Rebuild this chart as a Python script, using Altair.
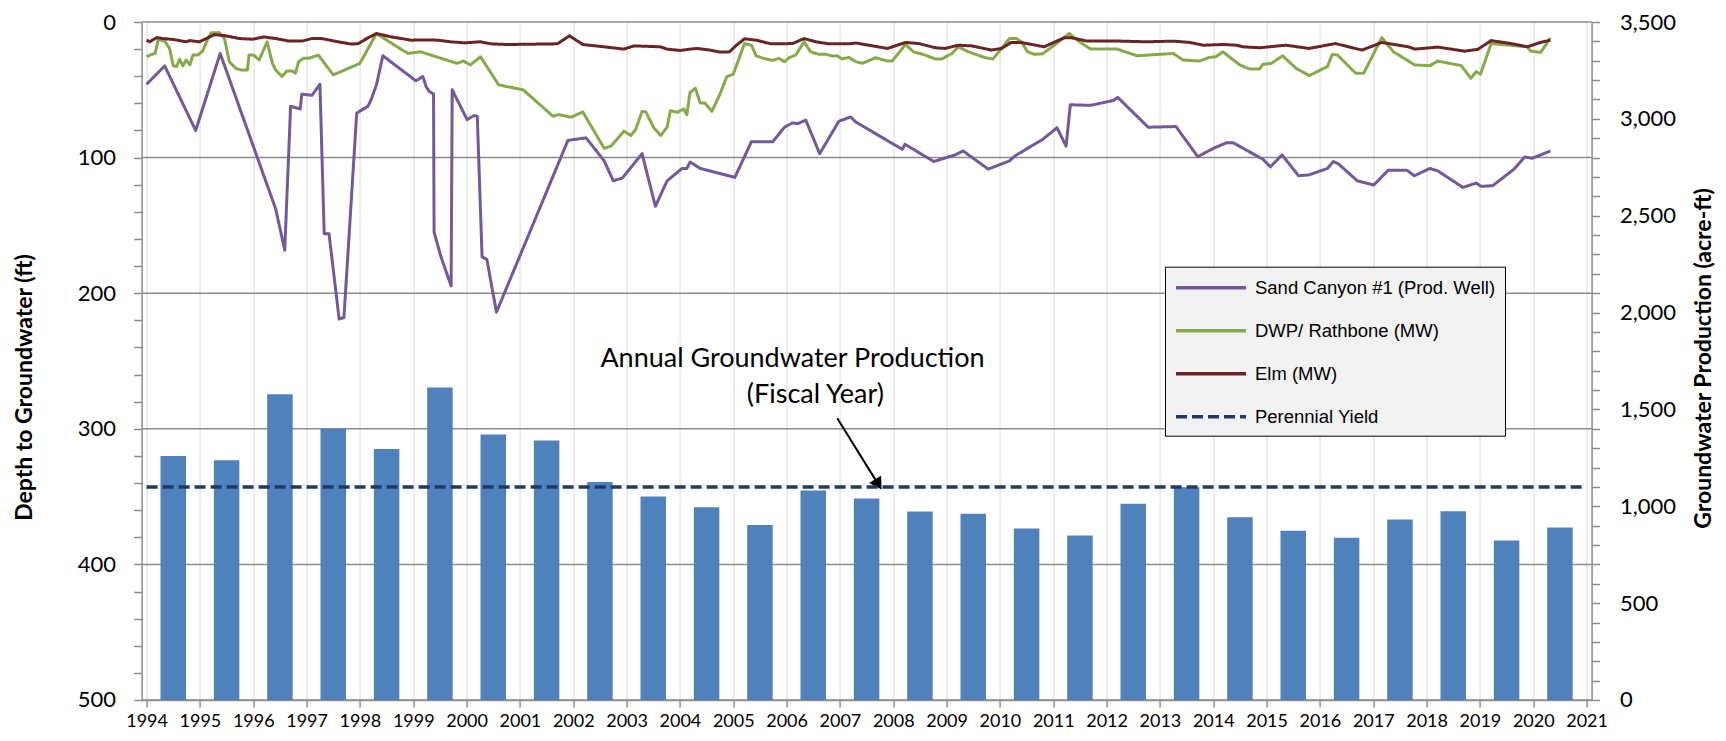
import altair as alt
import pandas as pd

# ---------------- data ----------------
fiscal_years = list(range(1994, 2021))
production_af = [1260, 1238, 1579, 1400, 1296, 1613, 1371, 1340, 1125, 1050, 995, 903,
                 1082, 1040, 973, 961, 885, 849, 1013, 1098, 944, 874, 837, 932, 975, 823, 891]

perennial_x = [1994, 2021]
perennial_af = [1100, 1100]

sand_year = [1994.00, 1994.34, 1994.92, 1995.38, 1996.42, 1996.59, 1996.70, 1996.88, 1996.91, 1997.10,
             1997.25, 1997.33, 1997.42, 1997.61, 1997.70, 1997.94, 1998.15, 1998.21, 1998.31, 1998.43,
             1999.05, 1999.18, 1999.24, 1999.30, 1999.38, 1999.39, 1999.52, 1999.71, 1999.73, 2000.01,
             2000.14, 2000.20, 2000.29, 2000.38, 2000.56, 2001.90, 2002.24, 2002.58, 2002.75, 2002.92,
             2003.29, 2003.54, 2003.76, 2004.04, 2004.13, 2004.19, 2004.38, 2005.03, 2005.34, 2005.74,
             2005.96, 2006.11, 2006.21, 2006.36, 2006.62, 2006.98, 2007.20, 2007.29, 2007.48, 2008.17,
             2008.22, 2008.76, 2009.16, 2009.31, 2009.78, 2010.18, 2010.28, 2010.80, 2011.07, 2011.24,
             2011.32, 2011.70, 2012.13, 2012.21, 2012.78, 2013.30, 2013.71, 2014.00, 2014.25, 2014.37,
             2014.93, 2015.07, 2015.29, 2015.60, 2015.80, 2016.14, 2016.25, 2016.34, 2016.70, 2017.01,
             2017.28, 2017.63, 2017.77, 2018.06, 2018.21, 2018.68, 2018.93, 2019.02, 2019.24, 2019.64,
             2019.84, 2019.98, 2020.32]
sand_ft = [45.9, 32.4, 80.0, 23.2, 137.8, 168.3, 62.2, 64.1, 53.2, 54.1,
           45.9, 156.1, 156.1, 219.0, 218.0, 67.1, 62.2, 57.3, 46.3, 24.9,
           43.4, 40.2, 47.6, 51.2, 53.2, 154.9, 173.2, 194.6, 50.0, 72.0,
           69.0, 69.5, 173.2, 175.1, 214.0, 87.3, 85.4, 102.4, 117.1, 115.1,
           97.1, 135.9, 117.1, 108.0, 108.0, 103.2, 108.0, 114.6, 88.3, 88.3,
           77.6, 74.4, 74.9, 72.4, 97.1, 73.2, 70.0, 73.5, 78.0, 93.9,
           90.2, 102.9, 98.0, 95.1, 108.5, 102.4, 98.8, 86.6, 78.0, 91.5,
           61.0, 61.5, 57.8, 55.6, 77.6, 77.1, 99.3, 93.2, 89.0, 89.0,
           101.2, 106.8, 98.0, 113.4, 112.7, 108.0, 102.9, 104.4, 117.1, 120.2,
           109.3, 109.3, 113.4, 108.0, 109.8, 122.0, 118.8, 121.2, 120.7, 108.5,
           99.5, 100.5, 95.1]

dwp_year = [1994.00, 1994.09, 1994.16, 1994.22, 1994.34, 1994.43, 1994.50, 1994.56, 1994.62, 1994.68,
            1994.74, 1994.81, 1994.87, 1994.96, 1995.05, 1995.15, 1995.21, 1995.36, 1995.46, 1995.55,
            1995.67, 1995.77, 1995.89, 1995.92, 1996.01, 1996.11, 1996.26, 1996.36, 1996.42, 1996.54,
            1996.63, 1996.73, 1996.79, 1996.85, 1996.94, 1997.04, 1997.22, 1997.50, 1998.00, 1998.31,
            1998.65, 1998.90, 1999.14, 1999.82, 1999.94, 2000.07, 2000.26, 2000.60, 2000.75, 2001.06,
            2001.62, 2001.72, 2001.96, 2002.18, 2002.58, 2002.71, 2002.95, 2003.08, 2003.17, 2003.29,
            2003.36, 2003.51, 2003.64, 2003.76, 2003.82, 2003.95, 2004.07, 2004.13, 2004.19, 2004.29,
            2004.38, 2004.47, 2004.60, 2004.75, 2004.88, 2005.00, 2005.21, 2005.34, 2005.43, 2005.56,
            2005.74, 2005.86, 2005.96, 2006.05, 2006.17, 2006.33, 2006.45, 2006.61, 2006.73, 2006.86,
            2006.95, 2007.04, 2007.17, 2007.30, 2007.42, 2007.67, 2007.89, 2007.98, 2008.23, 2008.38,
            2008.60, 2008.79, 2008.91, 2009.10, 2009.22, 2009.41, 2009.72, 2009.87, 2010.18, 2010.31,
            2010.40, 2010.52, 2010.65, 2010.80, 2011.02, 2011.30, 2011.45, 2011.70, 2012.20, 2012.57,
            2013.25, 2013.43, 2013.74, 2013.93, 2014.05, 2014.18, 2014.50, 2014.68, 2014.87, 2014.93,
            2015.09, 2015.30, 2015.55, 2015.80, 2016.14, 2016.23, 2016.33, 2016.67, 2016.82, 2017.16,
            2017.38, 2017.78, 2018.06, 2018.21, 2018.65, 2018.83, 2018.93, 2019.01, 2019.21, 2019.89,
            2019.95, 2020.14, 2020.32]
dwp_ft = [25.6, 23.9, 23.2, 12.9, 14.1, 19.5, 32.2, 32.9, 27.6, 32.4,
          28.0, 31.7, 24.4, 24.4, 21.5, 12.2, 8.0, 7.8, 12.2, 29.3,
          34.1, 35.4, 35.4, 24.4, 24.4, 28.0, 14.6, 30.5, 35.4, 40.2,
          36.1, 36.1, 37.8, 29.3, 26.8, 26.8, 24.4, 39.0, 30.5, 8.5,
          17.1, 23.2, 22.0, 30.5, 28.8, 31.7, 25.6, 46.3, 47.6, 50.0,
          69.5, 68.3, 70.2, 66.3, 93.2, 91.5, 80.5, 83.7, 79.3, 65.9,
          66.3, 78.0, 83.7, 77.6, 65.4, 66.6, 64.1, 68.3, 52.0, 48.8,
          59.8, 59.8, 65.9, 53.2, 40.2, 38.5, 15.9, 17.1, 24.9, 26.8,
          28.3, 26.8, 29.3, 26.3, 24.4, 14.6, 22.0, 23.9, 23.7, 25.1,
          24.9, 27.3, 26.1, 29.3, 30.5, 26.3, 28.8, 28.8, 16.6, 22.0,
          24.4, 27.3, 27.3, 23.2, 18.3, 22.0, 26.3, 27.3, 12.2, 12.2,
          14.6, 22.0, 23.9, 23.4, 17.1, 8.5, 13.4, 20.0, 20.0, 24.9,
          23.2, 28.0, 28.8, 26.1, 25.6, 22.0, 31.7, 34.6, 34.6, 31.2,
          30.5, 24.9, 34.1, 39.5, 32.9, 23.9, 24.4, 37.8, 37.8, 11.5,
          22.0, 31.7, 32.2, 28.8, 32.2, 41.5, 36.6, 38.5, 15.9, 18.3,
          21.5, 22.4, 11.7]

elm_year = [1994.00, 1994.06, 1994.19, 1994.31, 1994.50, 1994.74, 1994.81, 1994.99, 1995.12, 1995.27,
            1995.49, 1995.74, 1995.99, 1996.20, 1996.42, 1996.67, 1996.91, 1997.10, 1997.28, 1997.59,
            1997.84, 1997.97, 1998.15, 1998.31, 1998.59, 1998.96, 1999.21, 1999.45, 1999.70, 1999.95,
            2000.26, 2000.45, 2000.77, 2001.70, 2001.93, 2002.18, 2002.58, 2002.95, 2003.14, 2003.63,
            2003.76, 2004.01, 2004.19, 2004.32, 2004.56, 2004.75, 2004.93, 2005.06, 2005.21, 2005.43,
            2005.71, 2006.11, 2006.33, 2006.55, 2006.79, 2007.17, 2007.30, 2007.61, 2007.89, 2008.23,
            2008.48, 2008.79, 2008.97, 2009.22, 2009.47, 2009.84, 2010.03, 2010.21, 2010.40, 2010.83,
            2011.20, 2011.33, 2011.64, 2012.26, 2012.75, 2013.25, 2013.56, 2013.81, 2014.18, 2014.44,
            2014.56, 2014.87, 2015.36, 2015.80, 2016.29, 2016.79, 2017.16, 2017.66, 2017.78, 2018.21,
            2018.71, 2018.96, 2019.21, 2019.58, 2019.89, 2020.13, 2020.32]
elm_ft = [13.4, 14.6, 11.5, 12.2, 12.9, 14.6, 13.7, 14.6, 12.2, 9.3,
          10.2, 12.2, 12.7, 11.0, 12.2, 14.1, 14.1, 12.2, 12.2, 14.6,
          16.3, 15.9, 11.7, 8.5, 11.0, 13.4, 13.2, 13.4, 14.6, 15.4,
          14.6, 16.1, 16.6, 16.1, 10.2, 16.6, 18.3, 20.0, 17.6, 18.3,
          20.0, 21.0, 20.0, 19.5, 20.7, 22.2, 22.0, 17.1, 12.4, 13.4,
          16.1, 15.9, 12.2, 14.6, 16.1, 16.1, 15.5, 17.6, 19.5, 15.1,
          15.9, 19.0, 19.5, 17.1, 17.6, 20.7, 19.5, 15.1, 15.1, 18.3,
          11.7, 11.5, 14.1, 14.1, 14.6, 14.1, 15.1, 17.1, 16.6, 17.1,
          18.3, 19.0, 17.1, 19.5, 15.9, 20.7, 15.1, 18.3, 20.0, 18.5,
          21.5, 20.2, 13.7, 15.9, 18.3, 15.1, 13.4]

series_names = ["Sand Canyon #1 (Prod. Well)", "DWP/ Rathbone (MW)", "Elm (MW)", "Perennial Yield"]
series_colors = ["#72599A", "#86AA4A", "#6A2424", "#1F3864"]
series_dashes = [[1, 0], [1, 0], [1, 0], [11, 5]]

depth_gridlines = [0, 100, 200, 300, 400, 500]

note_lines = ["Annual Groundwater Production", "(Fiscal Year)"]
note_x = [2006.11, 2006.54]
note_ft = [248.3, 275.4]
arrow_from = [2006.95, 292.2]
arrow_to = [2007.70, 339.7]

# ---------------- tables ----------------
bars_df = pd.DataFrame({"fy": fiscal_years, "af": production_af})
py_df = pd.DataFrame({"x": perennial_x, "af": perennial_af, "series": series_names[3]})
wells_df = pd.concat([
    pd.DataFrame({"x": sand_year, "ft": sand_ft, "series": series_names[0]}),
    pd.DataFrame({"x": dwp_year, "ft": dwp_ft, "series": series_names[1]}),
    pd.DataFrame({"x": elm_year, "ft": elm_ft, "series": series_names[2]}),
])
grid_df = pd.DataFrame({"ft": depth_gridlines})
note_df = pd.DataFrame({"x": note_x, "ft": note_ft, "label": note_lines})
arrow_df = pd.DataFrame({"x": [arrow_from[0]], "ft": [arrow_from[1]],
                         "x2": [arrow_to[0]], "ft2": [arrow_to[1]]})
head_df = pd.DataFrame({"x": [arrow_to[0]], "ft": [arrow_to[1]]})

GRAY = "#8C8C8C"
x_scale = alt.Scale(domain=[1994, 2021], nice=False, zero=False)
left_scale = alt.Scale(domain=[0, 500], reverse=True, nice=False)
right_scale = alt.Scale(domain=[0, 3500], nice=False)

color_enc = alt.Color("series:N", scale=alt.Scale(domain=series_names, range=series_colors),
                      legend=alt.Legend(title=None))
dash_enc = alt.StrokeDash("series:N", scale=alt.Scale(domain=series_names, range=series_dashes),
                          legend=alt.Legend(title=None))

x_axis = alt.Axis(values=list(range(1994, 2022)), format="d", title=None, grid=True,
                  gridColor="#E6E6E6", gridWidth=1.5, domainColor=GRAY, domainWidth=1.5,
                  tickColor=GRAY, tickWidth=1.5, tickSize=7, labelFont="Lato", labelFontSize=18,
                  labelColor="#000000", labelPadding=6, labelOverlap=False, labelFlush=False)

right_axis = alt.Axis(orient="right", values=list(range(0, 3501, 100)),
                      labelExpr="datum.value % 500 === 0 ? format(datum.value, ',') : ''", grid=False,
                      domainColor=GRAY, domainWidth=1.5, tickColor=GRAY, tickWidth=1.5, tickSize=8,
                      labelFont="Lato", labelFontSize=22, labelColor="#000000", labelPadding=20,
                      labelOverlap=False, labelFlush=False,
                      title="Groundwater Production (acre-ft)", titleFont="Lato", titleFontSize=23,
                      titleFontWeight="bold", titleColor="#000000", titleAngle=270,
                      titleX=112, titleY=336, titleBaseline="middle", titleAlign="center")

left_axis = alt.Axis(orient="left", values=list(range(0, 501, 20)),
                     labelExpr="datum.value % 100 === 0 ? format(datum.value, 'd') : ''", grid=False,
                     domainColor=GRAY, domainWidth=1.5, tickColor=GRAY, tickWidth=1.5, tickSize=8,
                     labelFont="Lato", labelFontSize=22, labelColor="#000000", labelPadding=18,
                     labelOverlap=False, labelFlush=False,
                     title="Depth to Groundwater (ft)", titleFont="Lato", titleFontSize=23,
                     titleFontWeight="bold", titleColor="#000000", titleAngle=270,
                     titleX=-117, titleY=365, titleBaseline="middle", titleAlign="center")

# left (depth) group: gridlines, well hydrographs, annotation
grid_rules = alt.Chart(grid_df).mark_rule(color=GRAY, strokeWidth=1.5).encode(
    y=alt.Y("ft:Q", scale=left_scale, axis=left_axis),
)
wells = alt.Chart(wells_df).mark_line(strokeWidth=3, strokeJoin="round").encode(
    x=alt.X("x:Q", scale=x_scale, axis=x_axis),
    y=alt.Y("ft:Q", scale=left_scale, axis=left_axis),
    color=color_enc, strokeDash=dash_enc,
)
notes = alt.Chart(note_df).mark_text(font="Lato", fontSize=27, color="#000000",
                                     align="center", baseline="middle").encode(
    x=alt.X("x:Q", scale=x_scale, axis=x_axis),
    y=alt.Y("ft:Q", scale=left_scale, axis=left_axis),
    text="label:N",
)
arrow = alt.Chart(arrow_df).mark_rule(color="#000000", strokeWidth=2).encode(
    x=alt.X("x:Q", scale=x_scale, axis=x_axis),
    y=alt.Y("ft:Q", scale=left_scale, axis=left_axis),
    x2="x2:Q", y2="ft2:Q",
)
head = alt.Chart(head_df).mark_point(shape="triangle", filled=True, size=200, angle=148,
                                     color="#000000", opacity=1).encode(
    x=alt.X("x:Q", scale=x_scale, axis=x_axis),
    y=alt.Y("ft:Q", scale=left_scale, axis=left_axis),
)
left_group = alt.layer(grid_rules, wells, notes, arrow, head)

# right (production) group: bars and perennial yield
bars = alt.Chart(bars_df).transform_calculate(mid="datum.fy + 0.5").mark_bar(
    color="#4F81BD", size=25.5).encode(
    x=alt.X("mid:Q", scale=x_scale, axis=x_axis),
    y=alt.Y("af:Q", scale=right_scale, axis=right_axis),
)
py_line = alt.Chart(py_df).mark_line(strokeWidth=3.5).encode(
    x=alt.X("x:Q", scale=x_scale, axis=x_axis),
    y=alt.Y("af:Q", scale=right_scale, axis=right_axis),
    color=color_enc, strokeDash=dash_enc,
)
right_group = alt.layer(bars, py_line)

chart = alt.layer(left_group, right_group).resolve_scale(y="independent").properties(
    width=1450, height=678,
    padding={"left": 133.6, "top": 14, "right": 126, "bottom": 35},
    autosize=alt.AutoSizeParams(type="none"),
).configure_view(stroke=None).configure_legend(
    orient="none", legendX=1023.4, legendY=244.7,
    fillColor="#F2F2F2", strokeColor="#000000", padding=9,
    symbolType="M-1,0H6", symbolSize=400, symbolStrokeWidth=3.5,
    labelFont="Liberation Sans", labelFontSize=18.5, labelColor="#000000",
    labelOffset=57, rowPadding=21, labelLimit=400,
)

chart.save("out.html", embed_options={"renderer": "svg", "actions": False})
